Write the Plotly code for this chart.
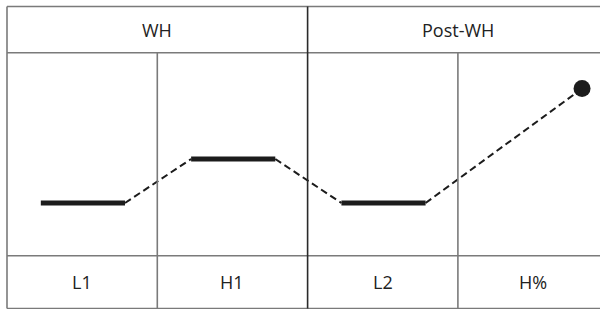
import plotly.graph_objects as go

# Data
categories = ["L1", "H1", "L2", "H%"]
levels = [1.0, 2.0, 1.0, 3.6]
groups = ["WH", "Post-WH"]
seg_start = 0.225
seg_end = 0.785
dot_pos = 0.826

W, H = 600, 309
col_left_px = 7.0
col_w_px = 150.3
x_range = [-col_left_px / col_w_px, (W - col_left_px) / col_w_px]
low_px, unit_px = 203.0, 44.0
y_range = [1 - (H - low_px) / unit_px, 1 + low_px / unit_px]

fig = go.Figure()

ink = "#1c1c1c"
# level bars and the final dot
for i, (cat, v) in enumerate(zip(categories, levels)):
    if i < len(categories) - 1:
        fig.add_trace(go.Scatter(x=[i + seg_start, i + seg_end], y=[v, v], mode="lines",
                                 line=dict(color=ink, width=5), showlegend=False, hoverinfo="skip"))
    else:
        fig.add_trace(go.Scatter(x=[i + dot_pos], y=[v], mode="markers",
                                 marker=dict(color=ink, size=17), showlegend=False, hoverinfo="skip"))
# dashed connectors
for i in range(len(categories) - 1):
    x_end = i + 1 + (seg_start if i + 1 < len(categories) - 1 else dot_pos)
    fig.add_trace(go.Scatter(x=[i + seg_end, x_end], y=[levels[i], levels[i + 1]], mode="lines",
                             line=dict(color=ink, width=2, dash="7px,4px"),
                             showlegend=False, hoverinfo="skip"))

def py(p):
    return 1 - p / H

top, hdr, bot_top, bottom = 6.5, 52.7, 255.7, 308.5
gray = "#7a7a7a"
shapes = []
for yy in [top, hdr, bot_top, bottom]:
    shapes.append(dict(type="line", xref="x", yref="paper", x0=0, x1=x_range[1] + 0.1,
                       y0=py(yy), y1=py(yy), line=dict(color=gray, width=1.6)))
shapes.append(dict(type="line", xref="x", yref="paper", x0=0, x1=0, y0=py(top), y1=py(bottom),
                   line=dict(color=gray, width=1.6)))
for xx in [1, 3]:
    shapes.append(dict(type="line", xref="x", yref="paper", x0=xx, x1=xx, y0=py(hdr), y1=py(bottom),
                       line=dict(color=gray, width=1.6)))
shapes.append(dict(type="line", xref="x", yref="paper", x0=2, x1=2, y0=py(top), y1=py(bottom),
                   line=dict(color="#2a2a2a", width=1.6)))

annotations = []
font = dict(family="Open Sans", size=18, color="#222")
for g, grp in enumerate(groups):
    annotations.append(dict(x=2 * g + 1, y=py((top + hdr) / 2), xref="x", yref="paper", text=grp,
                            showarrow=False, font=font, xanchor="center", yanchor="middle"))
for i, cat in enumerate(categories):
    annotations.append(dict(x=i + 0.5, y=py((bot_top + bottom) / 2), xref="x", yref="paper", text=cat,
                            showarrow=False, font=font, xanchor="center", yanchor="middle"))

fig.update_layout(
    width=W, height=H, margin=dict(l=0, r=0, t=0, b=0),
    paper_bgcolor="white", plot_bgcolor="white",
    xaxis=dict(range=x_range, visible=False, fixedrange=True),
    yaxis=dict(range=y_range, visible=False, fixedrange=True),
    shapes=shapes, annotations=annotations,
)
fig.write_html("out.html", config={"displayModeBar": False},
               post_script="document.body.style.margin='0';document.body.style.overflow='hidden';")
